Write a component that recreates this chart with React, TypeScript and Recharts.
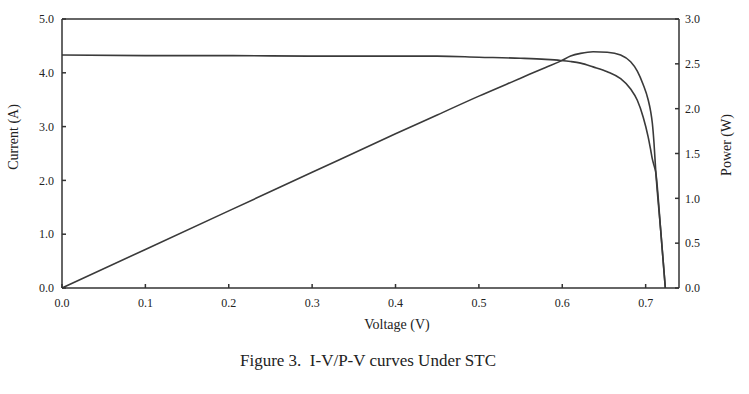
import { LineChart, Line, XAxis, YAxis, ReferenceLine } from "recharts";

// readings taken off the figure
const voltage = [0, 0.1, 0.2, 0.3, 0.4, 0.45, 0.5, 0.55, 0.58, 0.598, 0.61, 0.622, 0.637, 0.654, 0.67, 0.682, 0.69, 0.697, 0.703, 0.706, 0.708, 0.71, 0.712, 0.718, 0.7236];
const current = [4.33, 4.32, 4.32, 4.31, 4.31, 4.31, 4.29, 4.27, 4.25, 4.23, 4.21, 4.18, 4.11, 4.02, 3.89, 3.7, 3.49, 3.18, 2.81, 2.57, 2.4, 2.28, 2.16, 1.08, 0];
const power = [0, 0.43, 0.86, 1.29, 1.72, 1.93, 2.14, 2.34, 2.46, 2.53, 2.587, 2.617, 2.635, 2.63, 2.598, 2.523, 2.42, 2.27, 2.1, 1.97, 1.84, 1.62, 1.32, 0.65, 0];

const vTicks = [0, 0.1, 0.2, 0.3, 0.4, 0.5, 0.6, 0.7];
const iTicks = [0, 1, 2, 3, 4, 5];
const pTicks = [0, 0.5, 1, 1.5, 2, 2.5, 3];

const data = voltage.map((v, i) => ({ v, i: current[i], p: power[i] }));

const INK = "#333";
const font = { fontFamily: "'Liberation Serif', serif", fontSize: 12, fill: "#222" };

const App = () => {
  return (
    <div style={{ position: "absolute", left: 0, top: 0, width: 749, height: 394, background: "#fff", fontFamily: "'Liberation Serif', serif", color: "#222" }}>
      <LineChart width={749} height={394} data={data} margin={{ top: 19, right: 30, left: 22, bottom: 76 }}>
        <XAxis
          dataKey="v"
          type="number"
          domain={[0, 0.74]}
          ticks={vTicks}
          tickFormatter={(t: number) => t.toFixed(1)}
          tick={font}
          stroke={INK}
          strokeWidth={1.5}
          tickSize={-4}
          tickMargin={14}
          height={30}
        />
        <YAxis
          yAxisId="left"
          domain={[0, 5]}
          ticks={iTicks}
          tickFormatter={(t: number) => t.toFixed(1)}
          tick={font}
          stroke={INK}
          strokeWidth={1.5}
          tickSize={-4}
          tickMargin={12}
          width={40}
        />
        <YAxis
          yAxisId="right"
          orientation="right"
          domain={[0, 3]}
          ticks={pTicks}
          tickFormatter={(t: number) => t.toFixed(1)}
          tick={{ ...font, textAnchor: "start" }}
          stroke={INK}
          strokeWidth={1.5}
          tickSize={-4}
          tickMargin={10}
          width={40}
        />
        <ReferenceLine yAxisId="left" y={5} stroke={INK} strokeWidth={1.5} />
        <Line yAxisId="left" type="monotone" dataKey="i" stroke="#3a3a3a" strokeWidth={1.6} dot={false} isAnimationActive={false} />
        <Line yAxisId="right" type="monotone" dataKey="p" stroke="#3a3a3a" strokeWidth={1.6} dot={false} isAnimationActive={false} />
      </LineChart>
      <div style={{ position: "absolute", left: 0, top: 317, width: 794, textAlign: "center", fontSize: 14 }}>Voltage (V)</div>
      <div style={{ position: "absolute", left: 14, top: 137, fontSize: 14, whiteSpace: "nowrap", transform: "translate(-50%, -50%) rotate(-90deg)" }}>Current (A)</div>
      <div style={{ position: "absolute", left: 727, top: 145, fontSize: 14, whiteSpace: "nowrap", transform: "translate(-50%, -50%) rotate(-90deg)" }}>Power (W)</div>
      <div style={{ position: "absolute", left: 0, top: 351, width: 736, textAlign: "center", fontSize: 17 }}>Figure 3.&nbsp; I-V/P-V curves Under STC</div>
    </div>
  );
};

export default App;
